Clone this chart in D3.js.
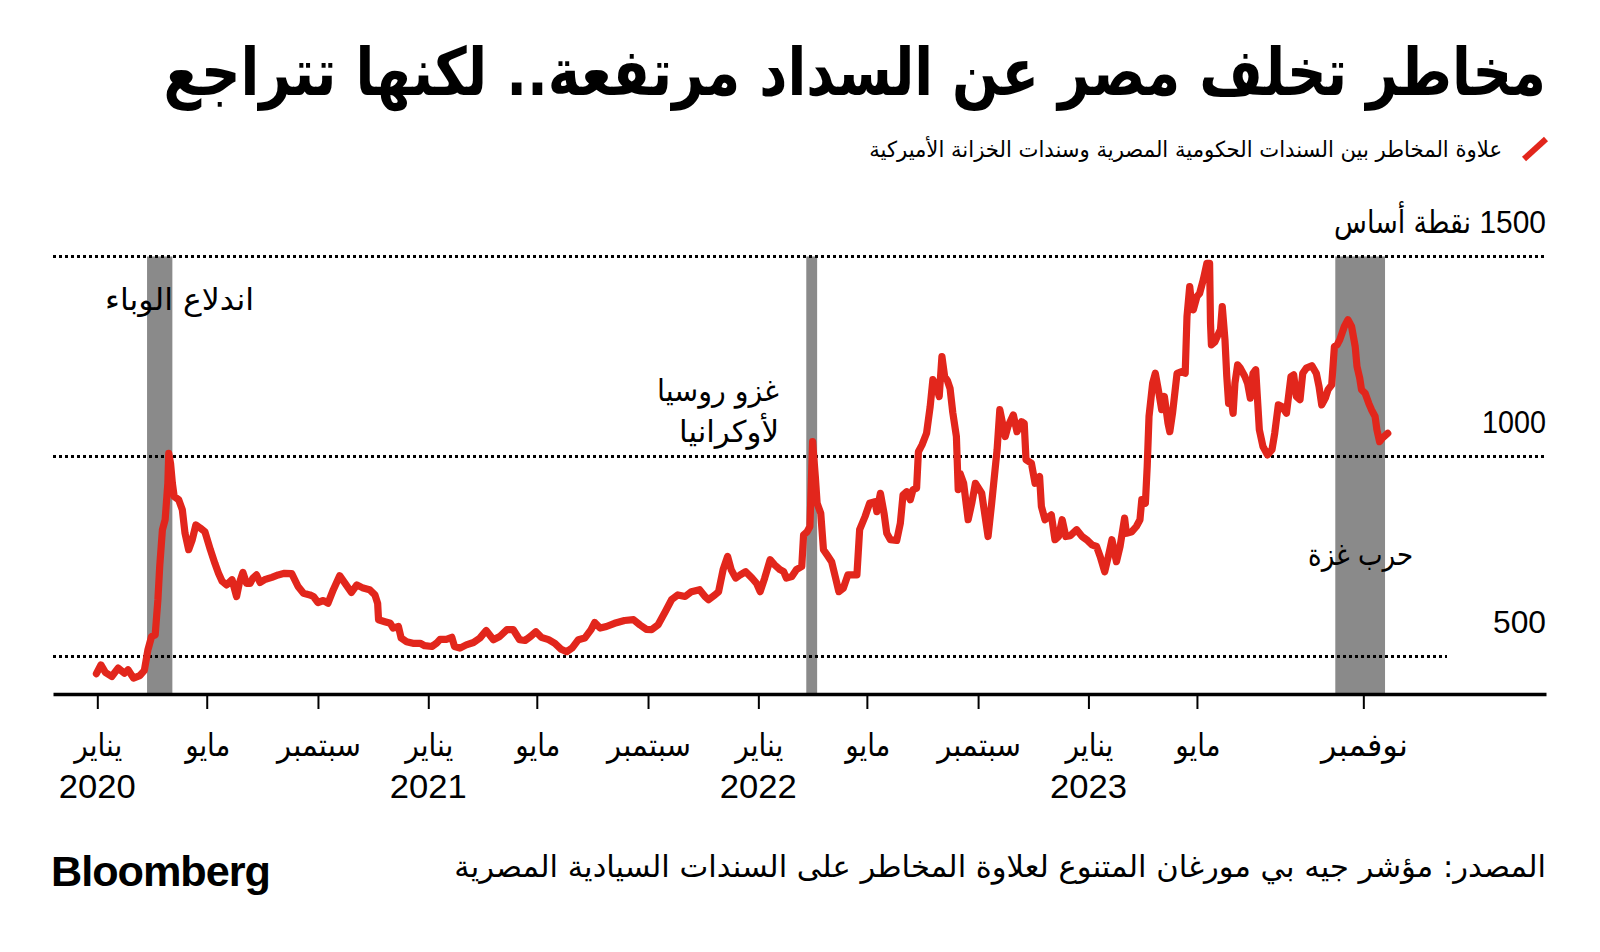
<!DOCTYPE html>
<html><head><meta charset="utf-8">
<script src="https://cdn.jsdelivr.net/npm/d3@7"></script>
<style>
body{margin:0;background:#fff;}
svg{display:block}
.ar{font-family:"DejaVu Sans Condensed","DejaVu Sans",sans-serif;}
.num{font-family:"Liberation Sans","DejaVu Sans Condensed","DejaVu Sans",sans-serif;}
</style></head><body>
<svg id="chart" width="1600" height="952"></svg>
<script>
// ---------- DATA ----------
const dates = ["2019-12-31","2020-01-05","2020-01-10","2020-01-17","2020-01-24","2020-01-31","2020-02-04","2020-02-10","2020-02-17","2020-02-22","2020-02-26","2020-03-01","2020-03-05","2020-03-08","2020-03-10","2020-03-13","2020-03-16","2020-03-19","2020-03-20","2020-03-22","2020-03-24","2020-03-26","2020-03-31","2020-04-04","2020-04-07","2020-04-11","2020-04-15","2020-04-19","2020-04-24","2020-04-29","2020-05-05","2020-05-10","2020-05-14","2020-05-18","2020-05-23","2020-05-29","2020-06-03","2020-06-06","2020-06-10","2020-06-14","2020-06-18","2020-06-21","2020-06-25","2020-06-29","2020-07-04","2020-07-12","2020-07-19","2020-07-26","2020-08-03","2020-08-10","2020-08-16","2020-08-23","2020-08-27","2020-09-01","2020-09-07","2020-09-12","2020-09-18","2020-09-25","2020-10-01","2020-10-08","2020-10-14","2020-10-21","2020-10-28","2020-11-03","2020-11-06","2020-11-07","2020-11-14","2020-11-20","2020-11-23","2020-11-29","2020-12-02","2020-12-08","2020-12-15","2020-12-23","2020-12-28","2021-01-05","2021-01-10","2021-01-14","2021-01-21","2021-01-27","2021-01-30","2021-02-05","2021-02-12","2021-02-20","2021-02-27","2021-03-06","2021-03-14","2021-03-21","2021-03-29","2021-04-05","2021-04-12","2021-04-18","2021-04-24","2021-04-30","2021-05-06","2021-05-14","2021-05-21","2021-05-28","2021-06-03","2021-06-09","2021-06-16","2021-06-23","2021-06-30","2021-07-04","2021-07-10","2021-07-17","2021-07-26","2021-08-06","2021-08-16","2021-08-23","2021-08-30","2021-09-05","2021-09-12","2021-09-20","2021-09-27","2021-10-04","2021-10-12","2021-10-19","2021-10-28","2021-11-03","2021-11-07","2021-11-14","2021-11-18","2021-11-23","2021-11-28","2021-12-02","2021-12-07","2021-12-12","2021-12-18","2021-12-25","2021-12-30","2022-01-03","2022-01-08","2022-01-14","2022-01-19","2022-01-25","2022-01-29","2022-02-01","2022-02-07","2022-02-12","2022-02-18","2022-02-20","2022-02-24","2022-02-27","2022-03-02","2022-03-05","2022-03-07","2022-03-11","2022-03-14","2022-03-18","2022-03-23","2022-03-27","2022-03-31","2022-04-05","2022-04-10","2022-04-16","2022-04-20","2022-04-23","2022-04-29","2022-05-04","2022-05-10","2022-05-12","2022-05-16","2022-05-20","2022-05-23","2022-05-27","2022-06-03","2022-06-07","2022-06-10","2022-06-14","2022-06-18","2022-06-21","2022-06-25","2022-06-27","2022-07-01","2022-07-06","2022-07-10","2022-07-13","2022-07-17","2022-07-20","2022-07-23","2022-07-26","2022-07-29","2022-08-01","2022-08-04","2022-08-08","2022-08-10","2022-08-12","2022-08-16","2022-08-21","2022-08-25","2022-08-29","2022-09-05","2022-09-12","2022-09-16","2022-09-22","2022-09-25","2022-10-01","2022-10-04","2022-10-10","2022-10-14","2022-10-19","2022-10-22","2022-10-24","2022-10-30","2022-11-03","2022-11-08","2022-11-10","2022-11-14","2022-11-21","2022-11-25","2022-11-29","2022-12-03","2022-12-07","2022-12-12","2022-12-19","2022-12-25","2022-12-30","2023-01-05","2023-01-10","2023-01-14","2023-01-19","2023-01-23","2023-01-27","2023-02-01","2023-02-05","2023-02-10","2023-02-12","2023-02-18","2023-02-23","2023-02-27","2023-03-01","2023-03-05","2023-03-07","2023-03-09","2023-03-13","2023-03-16","2023-03-20","2023-03-23","2023-03-26","2023-03-30","2023-04-01","2023-04-04","2023-04-09","2023-04-14","2023-04-18","2023-04-20","2023-04-23","2023-04-25","2023-04-27","2023-05-01","2023-05-04","2023-05-08","2023-05-12","2023-05-15","2023-05-16","2023-05-17","2023-05-21","2023-05-25","2023-05-27","2023-05-29","2023-06-01","2023-06-03","2023-06-05","2023-06-07","2023-06-10","2023-06-12","2023-06-15","2023-06-18","2023-06-23","2023-06-26","2023-06-29","2023-07-02","2023-07-05","2023-07-07","2023-07-09","2023-07-13","2023-07-18","2023-07-23","2023-07-26","2023-07-30","2023-08-03","2023-08-08","2023-08-13","2023-08-16","2023-08-19","2023-08-23","2023-08-26","2023-08-30","2023-09-05","2023-09-10","2023-09-13","2023-09-16","2023-09-20","2023-09-23","2023-09-27","2023-09-30","2023-10-03","2023-10-06","2023-10-11","2023-10-15","2023-10-19","2023-10-23","2023-10-25","2023-10-28","2023-10-30","2023-11-03","2023-11-07","2023-11-10","2023-11-14","2023-11-16","2023-11-19","2023-11-22","2023-11-28"];
const spread = [457,479,460,450,471,458,467,446,452,465,517,550,554,642,725,817,842,933,1008,983,933,900,892,867,808,767,792,829,821,812,767,733,708,688,679,692,650,683,710,683,683,696,704,685,692,698,704,708,707,675,658,654,650,635,640,633,667,702,683,660,679,671,667,654,633,592,587,583,571,575,546,537,533,533,527,525,533,543,543,548,525,521,529,535,546,565,542,550,567,567,542,540,550,562,548,542,533,518,512,521,542,546,567,585,571,575,583,590,592,579,568,567,579,612,642,654,650,662,667,650,642,654,662,717,750,717,696,704,712,696,683,662,696,742,729,717,712,696,700,717,725,804,812,825,1037,950,883,858,767,754,737,700,662,671,704,704,704,817,850,883,887,862,908,858,808,792,790,833,904,912,892,917,921,1012,1029,1058,1125,1192,1175,1150,1250,1200,1190,1170,1110,1050,917,958,933,842,883,933,908,800,883,1017,1117,1050,1075,1104,1062,1087,1083,992,983,933,950,875,842,854,792,800,842,800,802,817,800,792,779,775,750,712,750,792,737,775,846,808,812,825,842,892,883,975,1100,1183,1208,1158,1117,1150,1083,1062,1108,1208,1212,1208,1350,1425,1383,1367,1400,1408,1442,1483,1483,1333,1279,1287,1308,1317,1375,1292,1200,1133,1158,1108,1183,1229,1221,1200,1183,1146,1208,1217,1142,1067,1025,1004,1017,1058,1129,1125,1108,1200,1204,1150,1142,1208,1221,1227,1208,1175,1129,1146,1167,1179,1275,1279,1292,1325,1342,1325,1275,1225,1196,1167,1158,1133,1117,1100,1067,1037,1046,1058];

const tickDates = ["2020-01-01","2020-05-01","2020-09-01","2021-01-01","2021-05-01","2021-09-01","2022-01-01","2022-05-01","2022-09-01","2023-01-01","2023-05-01","2023-11-01"];
const tickMonths = ["يناير","مايو","سبتمبر","يناير","مايو","سبتمبر","يناير","مايو","سبتمبر","يناير","مايو","نوفمبر"];
const tickYears = ["2020","","","2021","","","2022","","","2023","",""];
const yTicks = [500, 1000, 1500];
const yTickLabels = ["500", "1000", "1500 نقطة أساس"];
const eventStart = ["2020-02-25","2022-02-23","2023-10-01"];
const eventEnd = ["2020-03-24","2022-03-07","2023-11-25"];
const eventLabels = [["اندلاع الوباء"], ["غزو روسيا","لأوكرانيا"], ["حرب غزة"]];
const titleText = "مخاطر تخلف مصر عن السداد مرتفعة.. لكنها تتراجع";
const legendText = "علاوة المخاطر بين السندات الحكومية المصرية وسندات الخزانة الأميركية";
const sourceText = "المصدر: مؤشر جيه بي مورغان المتنوع لعلاوة المخاطر على السندات السيادية المصرية";

// ---------- SETUP ----------
const RED = "#e2261c", GREY = "#8a8a8a";
const parse = d3.timeParse("%Y-%m-%d");
const series = dates.map((d, i) => ({date: parse(d), v: spread[i]}));
const svg = d3.select("#chart");

const x = d3.scaleTime().domain([parse("2019-11-13"), parse("2024-05-21")]).range([53, 1546]);
const y = d3.scaleLinear().domain([400, 1500]).range([696.5, 256.5]);
const axisY = 694;

function place(sel, o) {
  sel.attr("x", 0).attr("y", 0);
  const bb = sel.node().getBBox();
  const s = o.width ? o.width / bb.width : 1;
  let tx;
  if (o.anchor === "end") tx = o.x - (bb.x + bb.width) * s;
  else if (o.anchor === "middle") tx = o.x - (bb.x + bb.width / 2) * s;
  else tx = o.x - bb.x * s;
  sel.attr("transform", `translate(${tx},${o.y}) scale(${s},1)`);
  return sel;
}
function arText(parent, txt, size, weight) {
  return parent.append("text").attr("class", "ar")
    .style("direction", "rtl").style("unicode-bidi", "embed")
    .attr("font-size", size).attr("font-weight", weight || "normal")
    .attr("fill", "#000").text(txt);
}

// ---------- TITLE & LEGEND ----------
place(arText(svg, titleText, 66, "bold"), {anchor: "end", x: 1546, y: 95, width: 1383});
svg.append("line").attr("x1", 1524).attr("y1", 159).attr("x2", 1546).attr("y2", 139)
  .attr("stroke", RED).attr("stroke-width", 6);
place(arText(svg, legendText, 22), {anchor: "end", x: 1502, y: 157, width: 633});

// ---------- EVENT BANDS ----------
const g = svg.append("g");
g.selectAll("rect.band").data(eventStart).join("rect").attr("class", "band")
  .attr("x", (d) => x(parse(d)))
  .attr("width", (d, i) => x(parse(eventEnd[i])) - x(parse(d)))
  .attr("y", y(1500)).attr("height", axisY - y(1500))
  .attr("fill", GREY);

// ---------- GRIDLINES ----------
g.selectAll("line.grid").data(yTicks).join("line").attr("class", "grid")
  .attr("x1", 53).attr("x2", (d) => d === 500 ? 1447 : 1546)
  .attr("y1", (d) => y(d)).attr("y2", (d) => y(d))
  .attr("stroke", "#000").attr("stroke-width", 3).attr("stroke-dasharray", "3,3");

// y labels
const yLabelOpts = [{w: 53}, {w: 64}, {w: 212}];
yTickLabels.forEach((t, i) => {
  const el = svg.append("text").attr("class", "num")
    .style("direction", "rtl").style("unicode-bidi", "embed")
    .attr("font-size", 32).attr("fill", "#000").text(t);
  place(el, {anchor: "end", x: 1546, y: y(yTicks[i]) - 24, width: yLabelOpts[i].w});
});

// ---------- LINE ----------
g.append("path").datum(series)
  .attr("fill", "none").attr("stroke", RED).attr("stroke-width", 7.2)
  .attr("stroke-linejoin", "round").attr("stroke-linecap", "round")
  .attr("d", d3.line().x((d) => x(d.date)).y((d) => y(d.v)));

// ---------- X AXIS ----------
const xAxis = d3.axisBottom(x).tickValues(tickDates.map(parse))
  .tickSize(15).tickSizeOuter(0).tickFormat("");
const ax = svg.append("g").attr("transform", `translate(0,${axisY})`).call(xAxis);
ax.select(".domain").attr("stroke", "#000").attr("stroke-width", 3.5);
ax.selectAll(".tick line").attr("stroke", "#000").attr("stroke-width", 2);

const monthWidth = {"يناير": 50, "مايو": 47, "سبتمبر": 86, "نوفمبر": 89};
tickDates.forEach((d, i) => {
  const cx = x(parse(d));
  const m = arText(svg, tickMonths[i], 32);
  place(m, {anchor: "middle", x: cx, y: 756, width: monthWidth[tickMonths[i]]});
  if (tickYears[i]) {
    const yr = svg.append("text").attr("class", "num").attr("font-size", 34)
      .attr("fill", "#000").text(tickYears[i]);
    place(yr, {anchor: "middle", x: cx, y: 798, width: 77});
  }
});

// ---------- ANNOTATIONS ----------
const annot = [
  [{x: 254, y: 310, w: 149}],
  [{x: 779, y: 401, w: 122}, {x: 779, y: 442, w: 100}],
  [{x: 1413, y: 565, w: 105}]
];
eventLabels.forEach((lines, i) => {
  lines.forEach((t, j) => {
    place(arText(svg, t, 30), {anchor: "end", x: annot[i][j].x, y: annot[i][j].y, width: annot[i][j].w});
  });
});

// ---------- FOOTER ----------
place(arText(svg, sourceText, 30), {anchor: "end", x: 1546, y: 877, width: 1092});
const bb = svg.append("text").attr("font-family", "Liberation Sans, Arial, sans-serif")
  .attr("font-weight", "bold").attr("font-size", 42).attr("letter-spacing", -1)
  .attr("fill", "#000").text("Bloomberg");
place(bb, {anchor: "start", x: 51, y: 886, width: 219});
</script>
</body></html>
